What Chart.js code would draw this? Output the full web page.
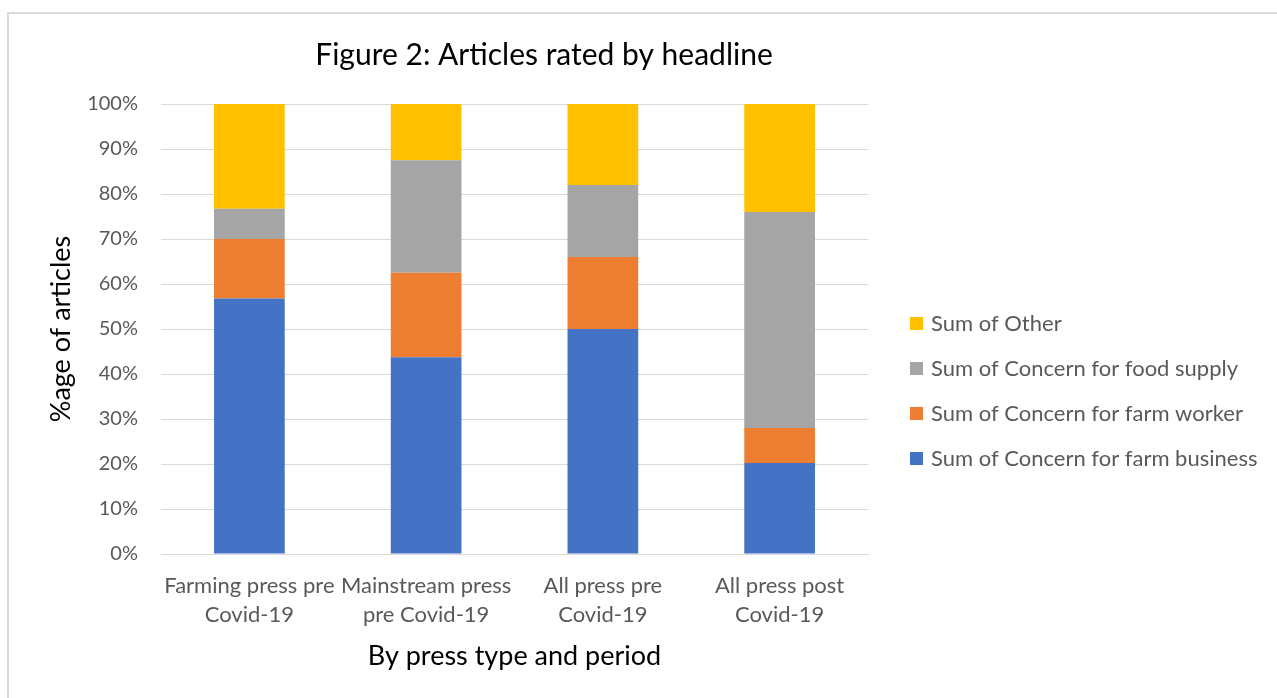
<!DOCTYPE html>
<html lang="en">
<head>
    <meta charset="UTF-8">
    <title>Articles rated by headline</title>
    <script src="https://cdn.jsdelivr.net/npm/chart.js"></script>
    <style>
        body {
            margin: 0;
            background: #fff;
            font-family: Lato, sans-serif;
        }
        .frame {
            position: absolute;
            left: 7px;
            top: 12px;
            width: 1290px;
            height: 700px;
            border-left: 2px solid #d9d9d9;
            border-top: 2px solid #d9d9d9;
        }
        #grafico {
            position: absolute;
            left: 0;
            top: 0;
        }
    </style>
</head>
<body>
    <div class="frame"></div>
    <canvas id="grafico" width="1277" height="698"></canvas>

    <script>
        // categorias e valores (% dos artigos)
        const categorias = [
            ['Farming press pre', 'Covid-19'],
            ['Mainstream press', 'pre Covid-19'],
            ['All press pre', 'Covid-19'],
            ['All press post', 'Covid-19']
        ];
        const farmBusiness = [56.8, 43.75, 50, 20.2];
        const farmWorker = [13.2, 18.75, 16, 7.8];
        const foodSupply = [6.7, 25, 16, 48];
        const outros = [23.3, 12.5, 18, 24];
        const ticksY = [0, 10, 20, 30, 40, 50, 60, 70, 80, 90, 100];

        const fonte = 'Lato, sans-serif';
        const cinzaTexto = '#595959';

        // titulo, titulos dos eixos e legenda
        const textos = {
            id: 'textos',
            afterDraw(chart) {
                const ctx = chart.ctx;
                const area = chart.chartArea;
                ctx.save();
                ctx.fillStyle = '#000';
                ctx.textAlign = 'center';
                ctx.textBaseline = 'middle';
                ctx.font = '30px ' + fonte;
                ctx.fillText('Figure 2: Articles rated by headline', 544, 55);

                ctx.font = '27px ' + fonte;
                ctx.fillText('By press type and period', (area.left + area.right) / 2, 656);

                ctx.save();
                ctx.translate(61, (area.top + area.bottom) / 2);
                ctx.rotate(-Math.PI / 2);
                ctx.fillText('%age of articles', 0, 0);
                ctx.restore();

                // legenda em ordem inversa
                ctx.textAlign = 'left';
                ctx.font = '22px ' + fonte;
                const ds = chart.data.datasets.slice().reverse();
                ds.forEach((d, i) => {
                    const y = 323 + i * 45;
                    ctx.fillStyle = d.backgroundColor;
                    ctx.fillRect(910, y - 6, 13, 13);
                    ctx.fillStyle = cinzaTexto;
                    ctx.fillText(d.label, 931, y + 1);
                });
                ctx.restore();
            }
        };

        new Chart(document.getElementById('grafico'), {
            type: 'bar',
            data: {
                labels: categorias,
                datasets: [
                    { label: 'Sum of Concern for farm business', data: farmBusiness, backgroundColor: '#4472C4' },
                    { label: 'Sum of Concern for farm worker', data: farmWorker, backgroundColor: '#ED7D31' },
                    { label: 'Sum of Concern for food supply', data: foodSupply, backgroundColor: '#A5A5A5' },
                    { label: 'Sum of Other', data: outros, backgroundColor: '#FFC000' }
                ]
            },
            options: {
                responsive: false,
                animation: false,
                layout: { padding: { left: 0, top: 104, right: 409, bottom: 0 } },
                datasets: { bar: { barPercentage: 0.4, categoryPercentage: 1 } },
                plugins: {
                    legend: { display: false },
                    title: { display: false },
                    tooltip: { enabled: false }
                },
                scales: {
                    x: {
                        stacked: true,
                        afterFit(scale) { scale.height = 144; },
                        grid: { display: false, drawTicks: false },
                        border: { color: '#d9d9d9', width: 1 },
                        ticks: {
                            color: cinzaTexto,
                            font: { family: fonte, size: 22, lineHeight: 1.32 },
                            padding: 17,
                            maxRotation: 0,
                            autoSkip: false
                        }
                    },
                    y: {
                        stacked: true,
                        min: 0,
                        max: 100,
                        afterFit(scale) { scale.width = 161; },
                        afterBuildTicks(scale) {
                            scale.ticks = ticksY.map(v => ({ value: v }));
                        },
                        grid: { color: '#d9d9d9', lineWidth: 1, drawTicks: false },
                        border: { display: false },
                        ticks: {
                            color: cinzaTexto,
                            font: { family: fonte, size: 20 },
                            padding: 23,
                            callback: v => v + '%'
                        }
                    }
                }
            },
            plugins: [textos]
        });
    </script>
</body>
</html>
